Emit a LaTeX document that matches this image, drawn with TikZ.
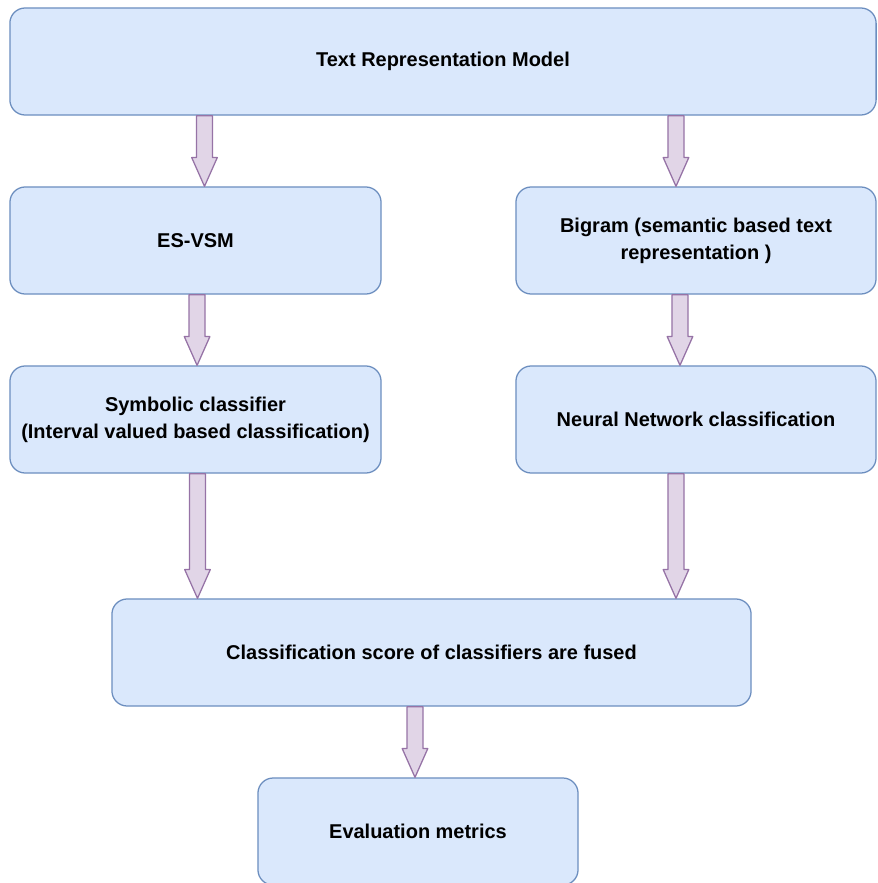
\documentclass[tikz,border=0pt]{standalone}
\usepackage{fontspec}
\setmainfont{Liberation Sans}
\usetikzlibrary{calc}

\definecolor{boxfill}{HTML}{DAE8FC}
\definecolor{boxline}{HTML}{6C8EBF}
\definecolor{arrowfill}{HTML}{E1D5E7}
\definecolor{arrowline}{HTML}{9673A6}

\tikzset{
    box/.style={draw=boxline, fill=boxfill, line width=0.9pt, rounded corners=0.38cm,
        align=center, inner sep=0pt, minimum height=2.675cm,
        font=\fontsize{14.2}{19}\selectfont\bfseries},
    flow/.style={draw=arrowline, fill=arrowfill, line width=0.9pt, line join=round}
}

% block arrow going down from #1 to #2
\newcommand{\flowarrow}[2]{%
    \draw[flow] let \p1=(#1), \p2=(#2) in
        (\x1-0.2cm,\y1) -- (\x1-0.2cm,\y2+0.72cm) -- (\x1-0.32cm,\y2+0.72cm) -- (\x1,\y2)
        -- (\x1+0.32cm,\y2+0.72cm) -- (\x1+0.2cm,\y2+0.72cm) -- (\x1+0.2cm,\y1) -- cycle;}

\begin{document}
\begin{tikzpicture}[x=0.025cm, y=-0.025cm]
            \useasboundingbox (0,0) rectangle (877,883);
            \clip (0,0) rectangle (877,883);

            \node[box, minimum width=21.65cm] (model) at (443,61.5) {Text Representation Model};
            \node[box, minimum width=9.275cm] (esvsm) at (195.5,240.5) {ES-VSM};
            \node[box, minimum width=9cm] (bigram) at (696,240.5) {Bigram (semantic based text\\representation )};
            \node[box, minimum width=9.275cm] (symbolic) at (195.5,419.5) {Symbolic classifier\\(Interval valued based classification)};
            \node[box, minimum width=9cm] (neural) at (696,419.5) {Neural Network classification};
            \node[box, minimum width=15.975cm] (fused) at (431.5,652.5) {Classification score of classifiers are fused};
            \node[box, minimum width=8cm] (eval) at (418,831.5) {Evaluation metrics};

            \flowarrow{[xshift=0.225cm]esvsm.north |- model.south}{[xshift=0.225cm]esvsm.north}
            \flowarrow{[xshift=-0.5cm]bigram.north |- model.south}{[xshift=-0.5cm]bigram.north}
            \flowarrow{[xshift=0.04cm]esvsm.south}{[xshift=0.04cm]symbolic.north}
            \flowarrow{[xshift=-0.4cm]bigram.south}{[xshift=-0.4cm]neural.north}
            \flowarrow{[xshift=0.05cm]symbolic.south}{[xshift=0.05cm]symbolic.south |- fused.north}
            \flowarrow{[xshift=-0.5cm]neural.south}{[xshift=-0.5cm]neural.south |- fused.north}
            \flowarrow{[xshift=-0.075cm]eval.north |- fused.south}{[xshift=-0.075cm]eval.north}
        \end{tikzpicture}
\end{document}
